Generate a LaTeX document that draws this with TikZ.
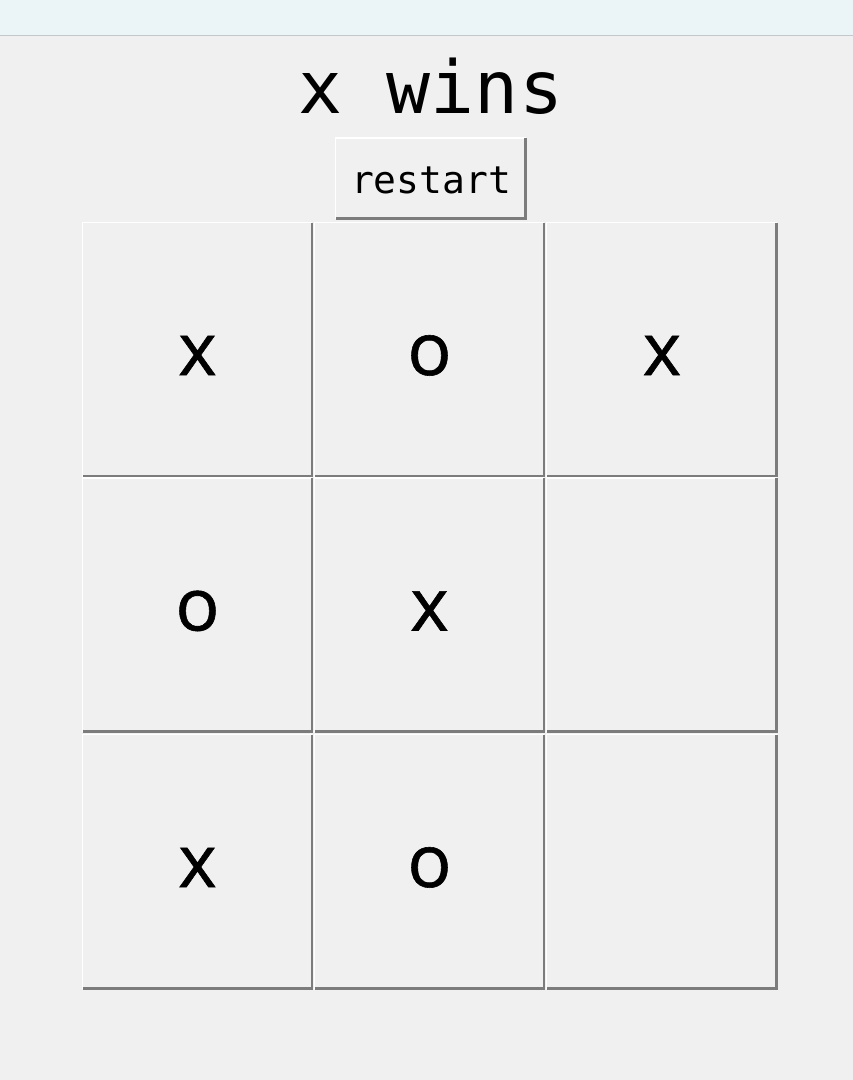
\documentclass[tikz,border=0pt]{standalone}
\usepackage{fontspec}
\setmainfont{Open Sans}
\setmonofont{DejaVu Sans Mono}
\newfontfamily\markfont[FakeBold=0.8]{Open Sans}
\definecolor{face}{HTML}{F0F0F0}
\definecolor{titlebar}{HTML}{EBF4F7}
\definecolor{barline}{HTML}{C4C8CA}
\definecolor{edge}{HTML}{7C7C7C}
\tikzset{
  bevel/.style={fill=face, draw=none, inner sep=0pt,
    path picture={
      \draw[white, line width=0.15mm]
        ([shift={(0.075mm,0.1mm)}]path picture bounding box.south west)
        |- ([shift={(-0.1mm,-0.075mm)}]path picture bounding box.north east);
      \draw[edge, line width=0.26mm]
        ([shift={(0.1mm,0.13mm)}]path picture bounding box.south west)
        -| ([shift={(-0.13mm,-0.1mm)}]path picture bounding box.north east);
    }},
}
\begin{document}
\begin{tikzpicture}[x=0.1mm, y=-0.1mm,
    every node/.style={inner sep=0pt},
    cell/.style={bevel, minimum width=23.2mm, minimum height=25.6mm,
      text height=5.1mm, text depth=0pt,
      font=\markfont\fontsize{20.8pt}{24pt}\selectfont}]

            \useasboundingbox (0,0) rectangle (853,1080);
            \fill[face] (0,0) rectangle (853,1080);
            \fill[titlebar] (0,0) rectangle (853,35);
            \draw[barline, line width=0.12mm] (0,35.5) -- (853,35.5);

            \node (title) at (431,113) [anchor=base,
              font=\ttfamily\fontsize{20.8pt}{24pt}\selectfont] {x wins};
            \node (restart) at (431,178.5) [bevel, minimum width=19.2mm,
              minimum height=8.3mm, text height=2.9mm, text depth=0pt,
              font=\ttfamily\fontsize{10.8pt}{12pt}\selectfont] {restart};

            \node[cell] (A1) at (197.5, 349.5) {x};
            \node[cell] (A2) at (429.5, 349.5) {o};
            \node[cell] (A3) at (662, 349.5) {x};
            \node[cell] (B1) at (197.5, 605) {o};
            \node[cell] (B2) at (429.5, 605) {x};
            \node[cell] (B3) at (662, 605) {};
            \node[cell] (C1) at (197.5, 861.5) {x};
            \node[cell] (C2) at (429.5, 861.5) {o};
            \node[cell] (C3) at (662, 861.5) {};
        \end{tikzpicture}
\end{document}
